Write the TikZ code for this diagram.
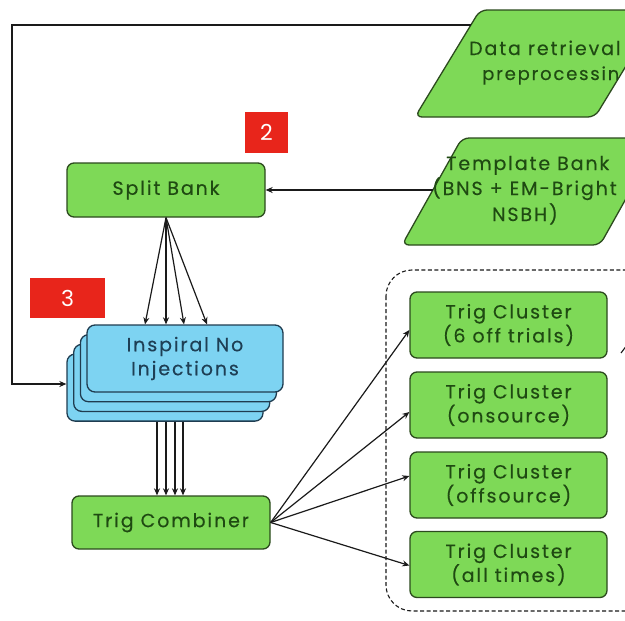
\documentclass[tikz,border=0pt]{standalone}
\usepackage{fontspec}
\setmainfont{Poppins}[LetterSpace=10, FakeBold=0.3]
\newfontfamily\tagfont{Poppins}
\usetikzlibrary{arrows.meta,calc}

\definecolor{boxgreen}{HTML}{7ED957}
\definecolor{edgegreen}{HTML}{2C4A1E}
\definecolor{textgreen}{HTML}{1F4A12}
\definecolor{boxblue}{HTML}{7DD3F2}
\definecolor{edgeblue}{HTML}{1F3C50}
\definecolor{textblue}{HTML}{1E3F55}
\definecolor{tagred}{HTML}{E8251B}
\definecolor{wire}{HTML}{1A1A1A}

\tikzset{
  greenbox/.style={draw=edgegreen, fill=boxgreen, line width=1.3pt, rounded corners=7pt,
    text=textgreen, font=\fontsize{19}{24}\selectfont, align=center, inner sep=0pt},
  bluebox/.style={draw=edgeblue, fill=boxblue, line width=1.3pt, rounded corners=8pt,
    text=textblue, font=\fontsize{19}{24}\selectfont, align=center, inner sep=0pt,
    minimum width=196pt, minimum height=67pt},
  slanted/.style={draw=edgegreen, fill=boxgreen, line width=1.3pt, rounded corners=7pt},
  slanttext/.style={text=textgreen, font=\fontsize{19}{24}\selectfont, inner sep=0pt, anchor=base west},
  tag/.style={fill=tagred, text=white, font=\tagfont\fontsize{22}{22}\selectfont, inner sep=0pt},
  arr/.style={draw=wire, line width=1.2pt, -{Stealth[length=7pt,width=6pt]}},
  groupframe/.style={draw=wire, line width=1.1pt, dashed, dash pattern=on 4pt off 2.5pt, rounded corners=26pt}
}

\begin{document}
\begin{tikzpicture}[x=1pt, y=-1pt]
\useasboundingbox (0,0) rectangle (625,621);
\clip (0,0) rectangle (625,621);
\fill[white] (0,0) rectangle (625,621);

% input parallelograms
\draw[slanted] (480,10) -- (660,10) -- (595,117) -- (415,117) -- cycle;
\node[slanttext] (drA) at (469,55) {Data retrieval};
\node[slanttext, font=\fontsize{18}{24}\selectfont] (drB) at (482,80) {preprocessin};
\coordinate (dr) at (471,25);

\draw[slanted] (462,138) -- (660,138) -- (600,245) -- (402,245) -- cycle;
\node[slanttext] (tbA) at (446,170) {Template Bank};
\node[slanttext] (tbB) at (432,195) {(BNS + EM-Bright};
\node[slanttext] (tbC) at (492,221) {NSBH)};
\coordinate (tb) at (433,190);

% step tags
\node[tag, minimum width=43pt, minimum height=41pt] (tag2) at (266.5,132.5) {2};
\node[tag, minimum width=75pt, minimum height=40pt] (tag3) at (67.5,298) {3};

% split bank
\node[greenbox, minimum width=198pt, minimum height=54pt] (split) at (166,190) {Split Bank};

% stacked inspiral jobs
\node[bluebox] (insp3) at (165,387.6) {};
\node[bluebox] (insp2) at (171.7,377.9) {};
\node[bluebox] (insp1) at (178.4,368.2) {};
\node[bluebox] (insp0) at (185,358.5) {Inspiral No\\Injections};

% trig combiner
\node[greenbox, minimum width=198pt, minimum height=53pt] (comb) at (171,522.5) {Trig Combiner};

% clustering group
\draw[groupframe] (386,270) rectangle (660,611);
\node[greenbox, minimum width=197pt, minimum height=66pt] (c1) at (508.5,325) {Trig Cluster\\(6 off trials)};
\node[greenbox, minimum width=197pt, minimum height=66pt] (c2) at (508.5,405) {Trig Cluster\\(onsource)};
\node[greenbox, minimum width=197pt, minimum height=66pt] (c3) at (508.5,485) {Trig Cluster\\(offsource)};
\node[greenbox, minimum width=197pt, minimum height=66pt] (c4) at (508.5,564.5) {Trig Cluster\\(all times)};

% connectors
\draw[arr] (dr) -- (12,25) -- (12,384) -- (insp3.west |- 0,384);
\draw[arr] (tb) -- (split.east);

\foreach \xx in {145,166,184,207}
  \draw[arr] (split.south) -- (insp0.north -| \xx,0);

\foreach \xx in {157,166,175,183}
  \draw[arr] (insp3.south -| \xx,0) -- (comb.north -| \xx,0);

\draw[arr] (comb.east) -- ($(c1.west)+(0,5)$);
\draw[arr] (comb.east) -- ($(c2.west)+(0,7)$);
\draw[arr] (comb.east) -- ($(c3.west)+(0,-9)$);
\draw[arr] (comb.east) -- ($(c4.west)+(0,1)$);

% stub at the right edge
\coordinate (stubA) at (627,345);
\coordinate (stubB) at (621,353);
\draw[wire, line width=1.1pt] (stubA) -- (stubB);
\end{tikzpicture}
\end{document}
